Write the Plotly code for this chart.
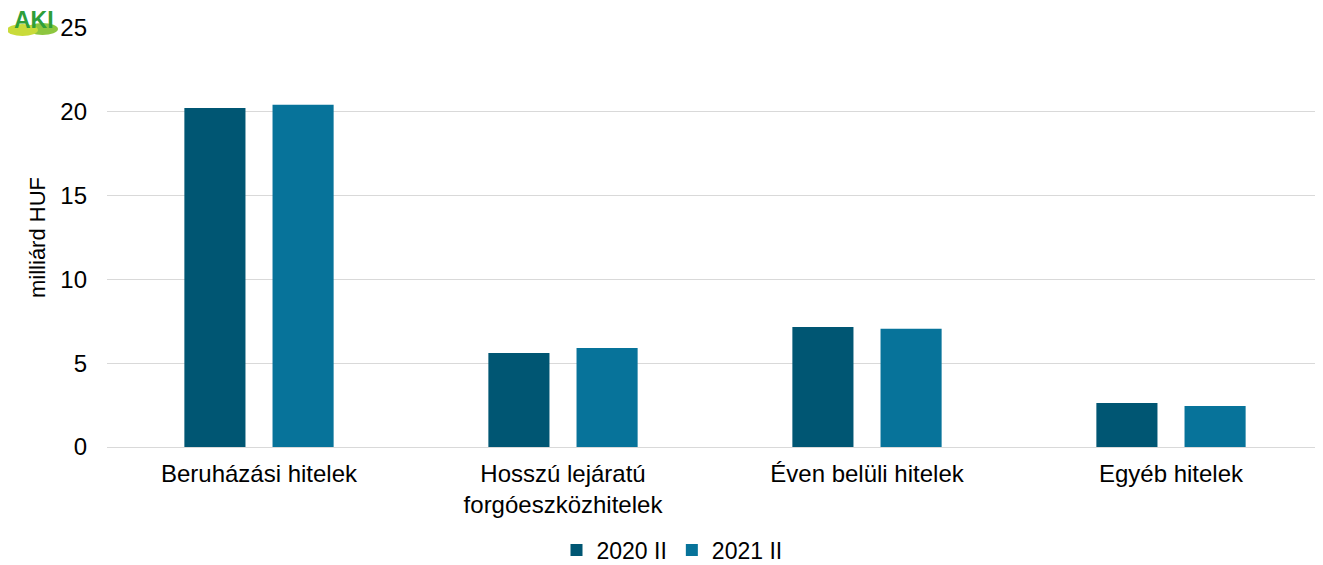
import plotly.graph_objects as go

categories = ["Beruházási hitelek", "Hosszú lejáratú<br>forgóeszközhitelek", "Éven belüli hitelek", "Egyéb hitelek"]
series_names = ["2020 II", "2021 II"]
values_2020 = [20.23, 5.61, 7.16, 2.63]
values_2021 = [20.42, 5.9, 7.05, 2.45]
colors = ["#005673", "#07739A"]
y_ticks = [0, 5, 10, 15, 20, 25]

font_family = "Liberation Sans, Arial, sans-serif"

# figure sized so that with the 8px body margin it fills the window exactly
W, H = 1315, 557
L, T, R, B = 99, 20, 0, 118
PW = W - L - R
PH = H - T - B


def px(xpage):
    return (xpage - 8 - L) / PW


def py(ypage):
    return 1 - (ypage - 8 - T) / PH


fig = go.Figure()
for name, vals, col in zip(series_names, [values_2020, values_2021], colors):
    fig.add_trace(go.Bar(
        x=categories, y=vals, name=name,
        marker=dict(color=col, line=dict(width=0)),
    ))

fig.update_layout(
    width=W, height=H,
    margin=dict(l=L, r=R, t=T, b=B),
    paper_bgcolor="white", plot_bgcolor="white",
    barmode="group", bargap=0.42, bargroupgap=0.307,
    font=dict(family=font_family, size=24, color="#000000"),
    showlegend=True,
    legend=dict(orientation="h", xref="container", x=(672 - 8) / W, xanchor="center",
                yref="container", y=1 - (550 - 8) / H, yanchor="middle",
                font=dict(size=23), itemwidth=30, traceorder="normal"),
    xaxis=dict(showgrid=False, showline=False, ticks="", tickfont=dict(size=24),
               ticklabelstandoff=10),
    yaxis=dict(range=[0, 25], tickvals=y_ticks, showgrid=True, gridcolor="#D9D9D9",
               gridwidth=1, zeroline=True, zerolinecolor="#D9D9D9", zerolinewidth=1,
               showline=False, ticks="", ticklabelstandoff=19, tickfont=dict(size=24),
               title=dict(text="milliárd HUF", font=dict(size=22), standoff=8)),
)

# AKI logo approximation
fig.add_shape(type="circle", xref="paper", yref="paper",
              x0=px(27), x1=px(58), y0=py(35), y1=py(23),
              fillcolor="#8DC63F", line=dict(width=0), layer="above")
fig.add_shape(type="circle", xref="paper", yref="paper",
              x0=px(7), x1=px(38), y0=py(36), y1=py(24),
              fillcolor="#C9DB3A", line=dict(width=0), layer="above")
fig.add_annotation(text="<b>AKI</b>", xref="paper", yref="paper",
                   x=px(34), y=py(20), xanchor="center", yanchor="middle", showarrow=False,
                   font=dict(family=font_family, size=23, color="#2E9E3A"))

fig.write_html("out.html")
